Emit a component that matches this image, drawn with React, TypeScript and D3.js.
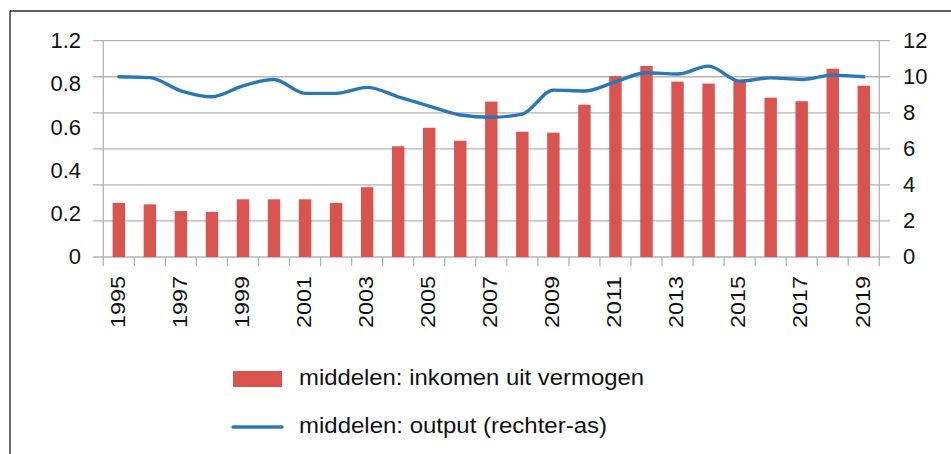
import React from "react";
import * as d3 from "d3";

const years = ["1995","1996","1997","1998","1999","2000","2001","2002","2003","2004","2005","2006","2007","2008","2009","2010","2011","2012","2013","2014","2015","2016","2017","2018","2019"];
const inkomenUitVermogen = [0.30,0.292,0.255,0.25,0.32,0.32,0.32,0.30,0.387,0.614,0.717,0.645,0.862,0.695,0.69,0.845,1.004,1.06,0.973,0.962,0.982,0.884,0.864,1.045,0.95];
const output = [10.0,9.95,9.22,8.89,9.5,9.85,9.08,9.08,9.41,8.89,8.37,7.88,7.75,7.93,9.26,9.21,9.72,10.22,10.15,10.59,9.76,9.94,9.85,10.09,10.0];
const leftTickLabels = ["1.2","0.8","0.6","0.4","0.2","0"];
const rightTicks = [0,2,4,6,8,10,12];
const xLabelYears = ["1995","1997","1999","2001","2003","2005","2007","2009","2011","2013","2015","2017","2019"];
const legendLabels = ["middelen: inkomen uit vermogen","middelen: output (rechter-as)"];

const W = 951, H = 454;
const X0 = 103.3, X1 = 879.3, YT = 40.7, YB = 257;
const RED = "#d9534f", BLUE = "#2878b8", GRID = "#b3b3b3";
const FONT = "'Liberation Sans', Arial, sans-serif";

export default function App() {
  const x = d3.scaleBand<string>().domain(years).range([X0, X1]).paddingInner(0.6).paddingOuter(0.3);
  const xb = d3.scaleBand<string>().domain(years).range([X0, X1]);
  const yL = d3.scaleLinear().domain([0, 1.2]).range([YB, YT]);
  const yR = d3.scaleLinear().domain([0, 12]).range([YB, YT]);
  const yLab = d3.scalePoint<string>().domain(leftTickLabels).range([YT, YB]);
  const line = d3.line<number>()
    .x((_, i) => (xb(years[i]) as number) + xb.bandwidth() / 2)
    .y((d) => yR(d))
    .curve(d3.curveMonotoneX);
  const boundaries = years.map((y) => xb(y) as number).concat([X1]);

  return (
    <svg width={W} height={H} style={{ position: "absolute", left: 0, top: 0, background: "#fff" }} fontFamily={FONT}>
      <rect x={0} y={0} width={W} height={H} fill="#fff" />
      {/* frame */}
      <line x1={10} y1={11} x2={W} y2={11} stroke="#2b2b2b" strokeWidth={1.4} />
      <line x1={10} y1={11} x2={10} y2={H} stroke="#2b2b2b" strokeWidth={1.4} />
      {/* grid */}
      {rightTicks.map((t) => (
        <line key={t} x1={93} x2={890} y1={yR(t)} y2={yR(t)} stroke={GRID} strokeWidth={1.3} />
      ))}
      <line x1={X0} x2={X0} y1={YT} y2={YB} stroke={GRID} strokeWidth={1.3} />
      <line x1={X1} x2={X1} y1={YT} y2={YB} stroke={GRID} strokeWidth={1.3} />
      {boundaries.map((b, i) => (
        <line key={i} x1={b} x2={b} y1={YB} y2={YB + 9} stroke={GRID} strokeWidth={1.3} />
      ))}
      {/* bars */}
      {years.map((yr, i) => (
        <rect key={yr} x={x(yr)} y={yL(inkomenUitVermogen[i])} width={x.bandwidth()} height={YB - yL(inkomenUitVermogen[i])} fill={RED} />
      ))}
      {/* line */}
      <path d={line(output) || ""} fill="none" stroke={BLUE} strokeWidth={3.4} strokeLinejoin="round" strokeLinecap="round" />
      {/* left labels */}
      {leftTickLabels.map((l) => (
        <text key={l} x={81} y={(yLab(l) as number) + 1.5} textAnchor="end" dominantBaseline="middle" fontSize={22} fill="#111">{l}</text>
      ))}
      {/* right labels */}
      {rightTicks.map((t) => (
        <text key={t} x={903} y={yR(t) + 1} textAnchor="start" dominantBaseline="middle" fontSize={22} fill="#111">{t}</text>
      ))}
      {/* x labels */}
      {xLabelYears.map((yr) => {
        const cx = (xb(yr) as number) + xb.bandwidth() / 2;
        return (
          <text key={yr} transform={`translate(${cx + 0.5},${YB + 19}) rotate(-90)`} textAnchor="end" dominantBaseline="middle" fontSize={20} textLength={52} lengthAdjust="spacingAndGlyphs" fill="#111">{yr}</text>
        );
      })}
      {/* legend */}
      <rect x={233} y={371} width={49} height={16} fill={RED} />
      <text x={299} y={379} dominantBaseline="middle" fontSize={22} textLength={345} lengthAdjust="spacingAndGlyphs" fill="#111">{legendLabels[0]}</text>
      <line x1={233} x2={282} y1={427} y2={427} stroke={BLUE} strokeWidth={3.4} strokeLinecap="round" />
      <text x={299} y={427} dominantBaseline="middle" fontSize={22} textLength={308} lengthAdjust="spacingAndGlyphs" fill="#111">{legendLabels[1]}</text>
    </svg>
  );
}
